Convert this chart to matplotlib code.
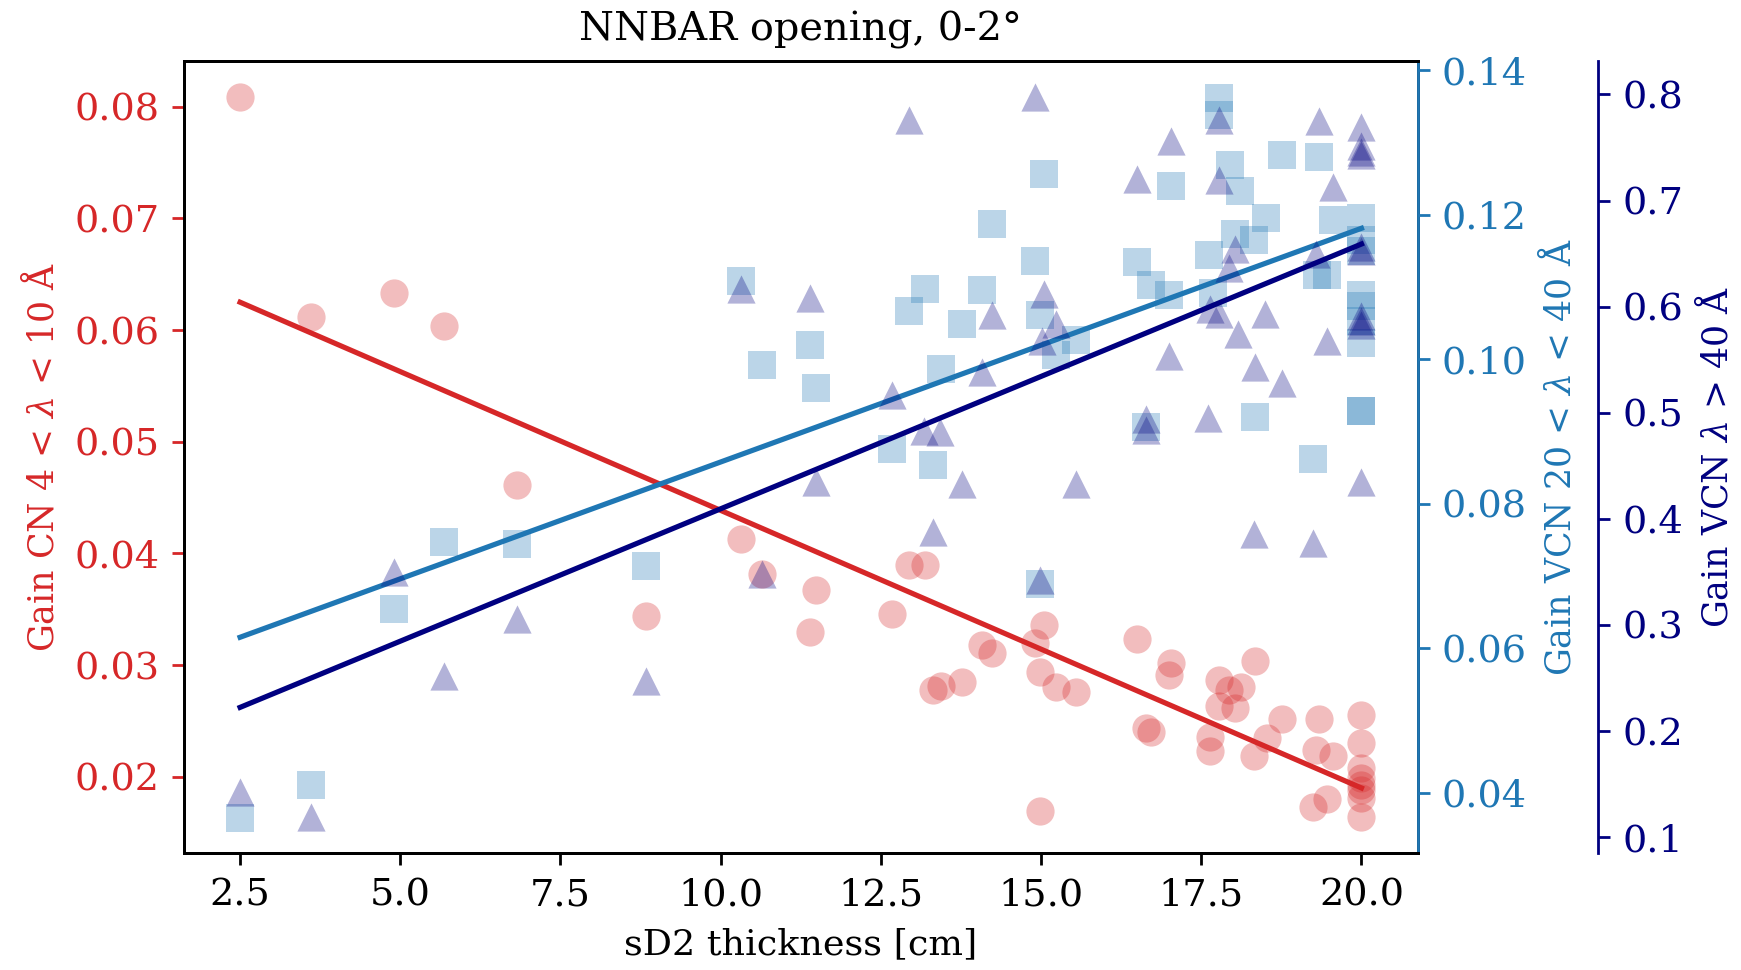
import matplotlib
matplotlib.use("Agg")
import matplotlib.pyplot as plt

plt.rcParams["font.family"] = "serif"
plt.rcParams["font.serif"] = ["DejaVu Serif"]
plt.rcParams["mathtext.fontset"] = "dejavuserif"
plt.rcParams["xtick.labelsize"] = 11
plt.rcParams["ytick.labelsize"] = 11

# gain CN 4-10 A vs sD2 thickness
x_cn = [2.5, 3.6, 4.9, 5.68, 6.82, 8.83, 10.31, 10.65, 11.4, 11.49,
        12.68, 12.94, 13.19, 13.32, 13.44, 13.76, 14.08, 14.24, 14.9, 14.98,
        14.98, 15.04, 15.23, 15.55, 16.5, 16.64, 16.72, 17.0, 17.03, 17.63,
        17.63, 17.77, 17.78, 17.94, 18.02, 18.12, 18.33, 18.34, 18.52, 18.76,
        19.24, 19.29, 19.33, 19.46, 19.56, 20.0, 20.0, 20.0, 20.0, 20.0,
        20.0, 20.0, 20.0]
gain_cn = [0.0809, 0.0612, 0.0633, 0.0604, 0.0461, 0.0344, 0.0413, 0.0382, 0.0330, 0.0367,
           0.0346, 0.0390, 0.0390, 0.0278, 0.0281, 0.0285, 0.0318, 0.0311, 0.0320, 0.0294,
           0.0169, 0.0336, 0.0280, 0.0276, 0.0323, 0.0244, 0.0240, 0.0291, 0.0302, 0.0236,
           0.0223, 0.0263, 0.0287, 0.0278, 0.0262, 0.0280, 0.0219, 0.0304, 0.0235, 0.0252,
           0.0173, 0.0224, 0.0252, 0.0180, 0.0219, 0.0255, 0.0230, 0.0208, 0.0199, 0.0193,
           0.0188, 0.0181, 0.0164]

# gain VCN 20-40 A
x_vcn = [2.5, 3.6, 4.9, 5.68, 6.82, 8.83, 10.31, 10.65, 11.4, 11.49,
         12.68, 12.94, 13.19, 13.32, 13.44, 13.76, 14.08, 14.23, 14.9, 14.98,
         14.98, 15.04, 15.23, 15.55, 16.5, 16.64, 16.71, 17.0, 17.03, 17.62,
         17.69, 17.77, 17.77, 17.95, 18.02, 18.1, 18.33, 18.34, 18.51, 18.76,
         19.25, 19.3, 19.33, 19.46, 19.55, 20.0, 20.0, 20.0, 20.0, 20.0,
         20.0, 20.0, 20.0, 20.0]
gain_vcn = [0.0365, 0.0411, 0.0654, 0.0747, 0.0744, 0.0714, 0.1108, 0.0992, 0.1020, 0.0960,
            0.0876, 0.1067, 0.1097, 0.0853, 0.0986, 0.1048, 0.1095, 0.1187, 0.1136, 0.1061,
            0.0689, 0.1256, 0.1006, 0.1026, 0.1134, 0.0906, 0.1102, 0.1088, 0.1239, 0.1144,
            0.1092, 0.1362, 0.1338, 0.1269, 0.1173, 0.1232, 0.1165, 0.0920, 0.1195, 0.1282,
            0.0862, 0.1116, 0.1279, 0.1116, 0.1192, 0.1195, 0.1165, 0.1149, 0.1088, 0.1074,
            0.1052, 0.1022, 0.0928, 0.0928]

# gain VCN above 40 A
x_vcn40 = [2.5, 3.6, 4.9, 5.68, 6.82, 8.83, 10.31, 10.65, 11.4, 11.49,
           12.68, 12.94, 13.17, 13.32, 13.42, 13.76, 14.08, 14.23, 14.9, 14.98,
           15.01, 15.04, 15.23, 15.54, 16.5, 16.64, 16.64, 16.99, 17.03, 17.61,
           17.63, 17.77, 17.77, 17.77, 17.94, 18.02, 18.08, 18.33, 18.34, 18.5,
           18.76, 19.24, 19.29, 19.33, 19.46, 19.55, 20.0, 20.0, 20.0, 20.0,
           20.0, 20.0, 20.0, 20.0, 20.0, 20.0]
gain_vcn40 = [0.143, 0.119, 0.350, 0.252, 0.306, 0.247, 0.617, 0.348, 0.608, 0.435,
              0.517, 0.776, 0.483, 0.388, 0.482, 0.433, 0.538, 0.592, 0.798, 0.342,
              0.568, 0.612, 0.584, 0.433, 0.720, 0.494, 0.484, 0.553, 0.756, 0.495,
              0.598, 0.776, 0.719, 0.593, 0.636, 0.654, 0.574, 0.386, 0.543, 0.593,
              0.528, 0.377, 0.650, 0.775, 0.568, 0.713, 0.769, 0.751, 0.746, 0.743,
              0.656, 0.652, 0.591, 0.586, 0.583, 0.435]

# linear fits, evaluated at the ends of the thickness range
fit_x = [2.5, 20.0]
fit_cn = [0.0625, 0.0190]
fit_vcn = [0.0615, 0.1181]
fit_vcn40 = [0.2223, 0.6590]

c_cn = "tab:red"
c_vcn = "tab:blue"
c_vcn40 = "navy"

fig = plt.figure(figsize=(6.964, 3.88), dpi=250)
ax = fig.add_axes([0.1057, 0.1209, 0.7085, 0.8162])
ax2 = ax.twinx()
ax3 = ax.twinx()
ax3.spines["right"].set_position(("outward", 52))

ax.scatter(x_cn, gain_cn, s=66, marker="o", color=c_cn, alpha=0.3, linewidths=0)
ax.plot(fit_x, fit_cn, color=c_cn, lw=1.5)
ax2.scatter(x_vcn, gain_vcn, s=66, marker="s", color=c_vcn, alpha=0.3, linewidths=0)
ax2.plot(fit_x, fit_vcn, color=c_vcn, lw=1.5)
ax3.scatter(x_vcn40, gain_vcn40, s=66, marker="^", color=c_vcn40, alpha=0.3, linewidths=0)
ax3.plot(fit_x, fit_vcn40, color=c_vcn40, lw=1.5)

ax.set_ylim(0.0132, 0.0841)
ax2.set_ylim(0.03168, 0.14125)
ax3.set_ylim(0.0853, 0.8315)

ax.set_xlabel("sD2 thickness [cm]", fontsize=10.5)
ax.set_ylabel(r"Gain CN 4 < $\lambda$ < 10 Å", color=c_cn)
ax2.set_ylabel(r"Gain VCN 20 < $\lambda$ < 40 Å", color=c_vcn)
ax3.set_ylabel(r"Gain VCN $\lambda$ > 40 Å", color=c_vcn40)
ax.set_title("NNBAR opening, 0-2°", fontsize=11.5)

ax.tick_params(axis="y", colors=c_cn)
ax2.tick_params(axis="y", colors=c_vcn)
ax3.tick_params(axis="y", colors=c_vcn40)
ax2.spines["right"].set_color(c_vcn)
ax3.spines["right"].set_color(c_vcn40)

fig.savefig("out.png", dpi=250)
